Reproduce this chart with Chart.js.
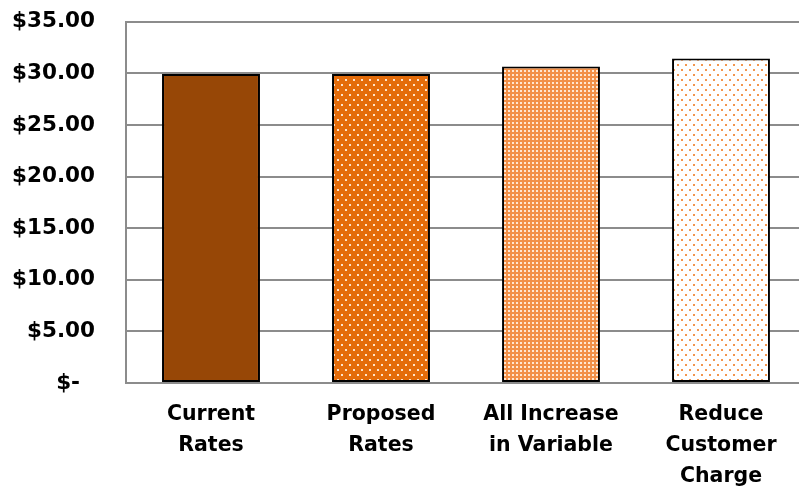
<!DOCTYPE html>
<html>
<head>
<meta charset="utf-8">
<script src="https://cdn.jsdelivr.net/npm/chart.js@4/dist/chart.umd.min.js"></script>
<style>
    html, body { margin: 0; padding: 0; background: #fff; overflow: hidden; }
    #wrap { position: absolute; left: 0; top: -22px; width: 808px; height: 530px; }
</style>
</head>
<body>
<div id="wrap"><canvas id="bill-chart"></canvas></div>
<script>
// Chart data
const categories = [
    ['Current', 'Rates'],
    ['Proposed', 'Rates'],
    ['All Increase', 'in Variable'],
    ['Reduce', 'Customer', 'Charge']
];
const monthlyBill = [29.96, 29.96, 30.67, 31.45];
const yTicks = [0, 5, 10, 15, 20, 25, 30, 35];

// Build a small repeating dot pattern
function makePattern(w, h, bg, dot, dots, size) {
    const c = document.createElement('canvas');
    c.width = w;
    c.height = h;
    const ctx = c.getContext('2d');
    ctx.fillStyle = bg;
    ctx.fillRect(0, 0, w, h);
    ctx.fillStyle = dot;
    dots.forEach(function(d) {
        ctx.fillRect(d[0], d[1], size, size);
    });
    return ctx.createPattern(c, 'repeat');
}

document.addEventListener('DOMContentLoaded', function() {
    const canvas = document.getElementById('bill-chart');
    if (!canvas) return;

    const fills = [
        '#974706',
        makePattern(8, 10, '#E46C0A', 'rgba(255,235,215,0.95)', [[1, 1], [5, 6]], 2),
        makePattern(4, 4, '#F29048', 'rgba(255,236,218,0.95)', [[0, 0]], 2),
        makePattern(8, 10, '#FFFFFF', '#F3964E', [[1, 1], [5, 6]], 2)
    ];

    new Chart(canvas, {
        type: 'bar',
        data: {
            labels: categories,
            datasets: [{
                data: monthlyBill,
                backgroundColor: fills,
                borderColor: '#000000',
                borderWidth: 2,
                borderSkipped: false,
                barPercentage: 0.576,
                categoryPercentage: 1.0
            }]
        },
        options: {
            responsive: true,
            maintainAspectRatio: false,
            animation: false,
            layout: {
                padding: { top: 12, right: 2, left: 0, bottom: 0 }
            },
            plugins: {
                legend: { display: false },
                tooltip: { enabled: false }
            },
            scales: {
                x: {
                    grid: { display: false, drawTicks: false },
                    border: { display: false },
                    ticks: {
                        color: '#000',
                        padding: 16,
                        maxRotation: 0,
                        autoSkip: false,
                        font: { family: 'DejaVu Sans', weight: 'bold', size: 20.5, lineHeight: '31px' }
                    }
                },
                y: {
                    min: yTicks[0],
                    max: yTicks[yTicks.length - 1],
                    afterBuildTicks: function(axis) {
                        axis.ticks = yTicks.map(function(v) { return { value: v }; });
                    },
                    afterFit: function(axis) {
                        axis.width = 126;
                    },
                    grid: { color: '#8c8c8c', lineWidth: 2, drawTicks: false },
                    border: { display: true, color: '#8c8c8c', width: 2 },
                    ticks: {
                        color: '#000',
                        padding: 31,
                        font: { family: 'DejaVu Sans', weight: 'bold', size: 21.5 },
                        callback: function(value) {
                            return value === 0 ? '$-  ' : '$' + value.toFixed(2);
                        }
                    }
                }
            }
        }
    });
});
</script>
</body>
</html>
